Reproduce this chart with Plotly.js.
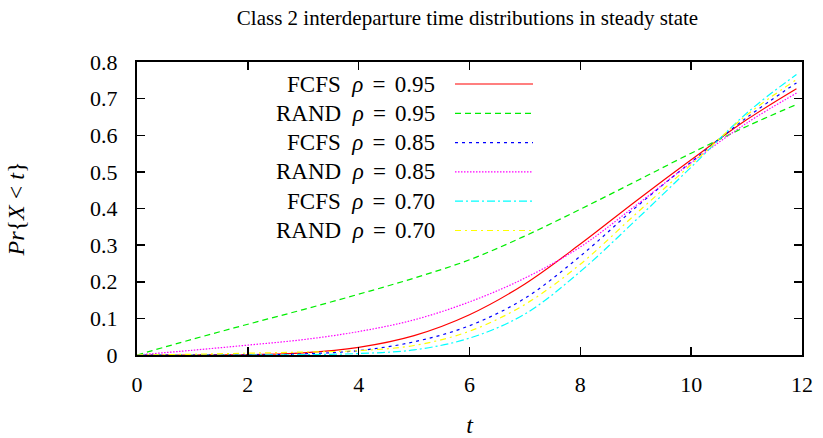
<!DOCTYPE html>
<html>
<head>
<meta charset="utf-8">
<script src="https://cdn.plot.ly/plotly-3.0.1.min.js"></script>
<style>html,body{margin:0;padding:0;background:#fff;}#chart{width:823px;height:438px;}</style>
</head>
<body>
<div id="chart"></div>
<script>
// ---- data ----
const t = [0, 1, 2, 3, 4, 5, 6, 7, 8, 9, 10, 11, 11.9];
const fcfs095 = [0, 0, 0.001, 0.006, 0.021, 0.053, 0.11, 0.194, 0.303, 0.42, 0.533, 0.642, 0.727];
const rand095 = [0, 0.043, 0.084, 0.124, 0.166, 0.21, 0.26, 0.325, 0.398, 0.474, 0.551, 0.624, 0.684];
const fcfs085 = [0, 0, 0, 0.003, 0.012, 0.036, 0.08, 0.155, 0.27, 0.403, 0.527, 0.648, 0.743];
const rand085 = [0, 0.013, 0.027, 0.042, 0.064, 0.096, 0.145, 0.21, 0.295, 0.408, 0.525, 0.633, 0.715];
const fcfs070 = [0, 0, 0, 0.001, 0.004, 0.014, 0.046, 0.112, 0.228, 0.368, 0.513, 0.66, 0.766];
const rand070 = [0, 0.002, 0.005, 0.008, 0.012, 0.026, 0.065, 0.138, 0.248, 0.385, 0.52, 0.655, 0.752];

const seriesNames = ["FCFS", "RAND", "FCFS", "RAND", "FCFS", "RAND"];
const rhoLabels = ["0.95", "0.95", "0.85", "0.85", "0.70", "0.70"];
const seriesValues = [fcfs095, rand095, fcfs085, rand085, fcfs070, rand070];
const xTicks = [0, 2, 4, 6, 8, 10, 12];
const yTicks = [0, 0.1, 0.2, 0.3, 0.4, 0.5, 0.6, 0.7, 0.8];

// ---- styles ----
const colors = ["#ff0000", "#00ee00", "#0000ff", "#ff00ff", "#00ffff", "#ffff00"];
const dashes = ["solid", "6px,4px", "3px,4px", "1.5px,1.5px", "8px,3px,2px,3px", "6px,4px,2px,4px"];
const FONT = "Liberation Serif, Times New Roman, serif";

const traces = seriesValues.map((v, i) => ({
  x: t, y: v, type: "scatter", mode: "lines",
  name: seriesNames[i] + " ρ = " + rhoLabels[i],
  line: {color: colors[i], width: 1.2, dash: dashes[i], shape: "spline", smoothing: 1},
  showlegend: false, hoverinfo: "skip"
}));

// plot area in pixels
const W = 823, H = 438;
const L = 137, R = 802, T = 62, B = 355;
const px = x => (x - L) / (R - L);
const py = y => (B - y) / (B - T);

const rowY = [84, 113.3, 142.6, 171.9, 201.2, 230.5];
const annotations = [];
const shapes = [];
seriesNames.forEach((n, i) => {
  annotations.push({
    xref: "paper", yref: "paper", x: px(437), y: py(rowY[i]),
    xanchor: "right", yanchor: "middle", showarrow: false,
    text: n + "\u2002<i>ρ</i>\u2009\u2009=\u2009\u2009" + rhoLabels[i],
    font: {family: FONT, size: 23, color: "#000"}
  });
  shapes.push({
    type: "line", xref: "paper", yref: "paper",
    x0: px(455), x1: px(533), y0: py(rowY[i]), y1: py(rowY[i]),
    line: {color: colors[i], width: 1.2, dash: dashes[i]}
  });
});

const layout = {
  width: W, height: H,
  margin: {l: L, r: W - R, t: T, b: H - B, pad: 0},
  paper_bgcolor: "#fff", plot_bgcolor: "#fff",
  showlegend: false,
  title: {text: "Class 2 interdeparture time distributions in steady state",
          font: {family: FONT, size: 21, color: "#000"},
          xref: "paper", x: 0.497, xanchor: "center", y: 1 - 18 / H, yanchor: "middle"},
  xaxis: {
    range: [0, 12], tickvals: xTicks, ticktext: xTicks.map(String),
    ticks: "inside", ticklen: 8, tickwidth: 1.5, tickcolor: "#000",
    showline: true, linecolor: "#000", linewidth: 2, mirror: "ticks",
    showgrid: false, zeroline: false,
    tickfont: {family: FONT, size: 22, color: "#000"},
    ticklabelstandoff: 9,
    title: {text: "<i>t</i>", font: {family: FONT, size: 24, color: "#000"}, standoff: 22}
  },
  yaxis: {
    range: [0, 0.8], tickvals: yTicks, ticktext: yTicks.map(v => String(v)),
    ticks: "inside", ticklen: 8, tickwidth: 1.5, tickcolor: "#000",
    showline: true, linecolor: "#000", linewidth: 2, mirror: "ticks",
    showgrid: false, zeroline: false,
    tickfont: {family: FONT, size: 22, color: "#000"},
    ticklabelstandoff: 13,
    title: {text: "<i>Pr</i>{<i>X</i> < <i>t</i>}", font: {family: FONT, size: 24, color: "#000"}, standoff: 59}
  },
  annotations: annotations,
  shapes: shapes
};

Plotly.newPlot("chart", traces, layout, {staticPlot: true, displayModeBar: false});
</script>
</body>
</html>
